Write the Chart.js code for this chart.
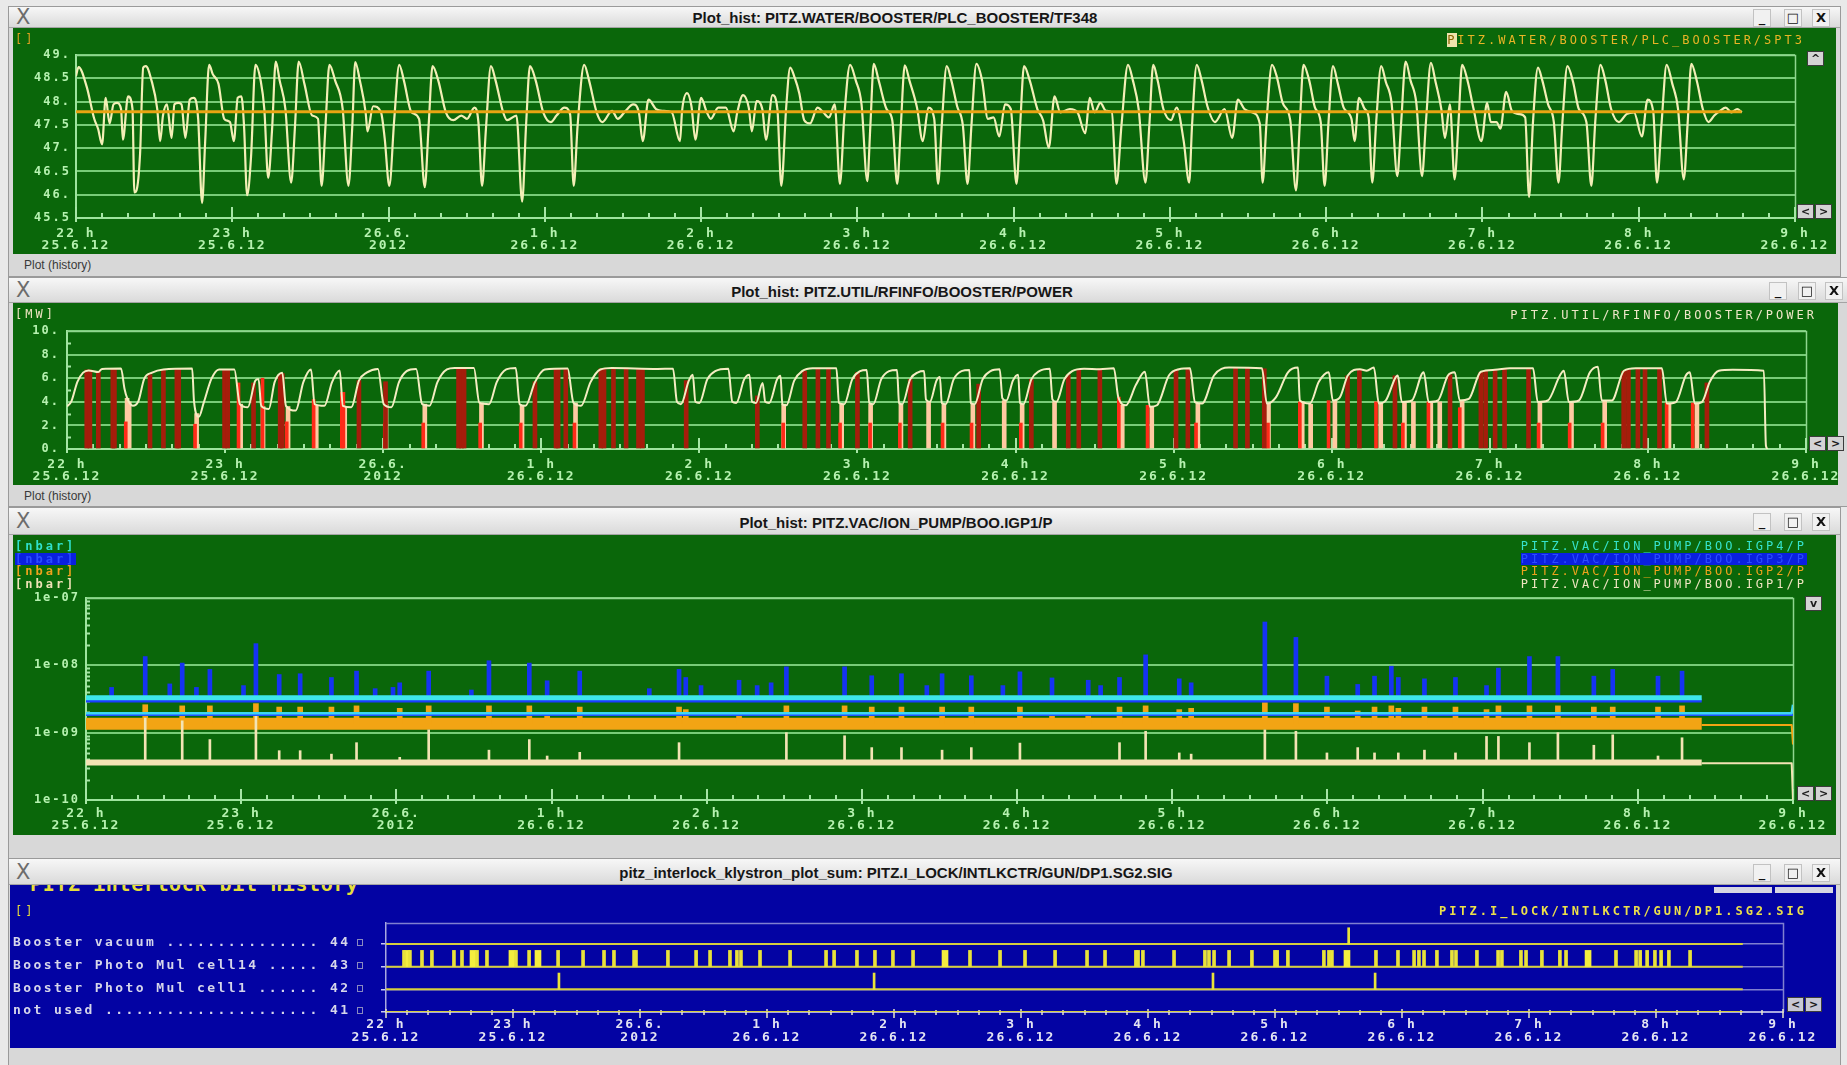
<!DOCTYPE html>
<html>
<head>
<meta charset="utf-8">
<title>PITZ booster history</title>
<script src="https://cdn.jsdelivr.net/npm/chart.js@4.4.1/dist/chart.umd.min.js"></script>
<style>
html,body{margin:0;padding:0}
body{width:1847px;height:1065px;position:relative;overflow:hidden;background:#e9e9e9;font-family:"Liberation Sans",Arial,sans-serif}
.frame{position:absolute;border:1px solid #9a9a9a;background:#d8d8d8;box-sizing:border-box}
.tbar{position:absolute;background:linear-gradient(#f7f7f7,#dadada);border-bottom:1px solid #a4a4a4;box-sizing:border-box}
.ttl{position:absolute;white-space:nowrap;font-weight:bold;font-size:15px;color:#161616;transform:translate(-50%,-50%)}
.cls{position:absolute;font:21px "DejaVu Sans",sans-serif;color:#6c6c6c;line-height:1}
.wb{position:absolute;width:18px;height:18px;box-sizing:border-box;border:1px solid #c2c2c2;background:#f1f1f1;color:#111;font:bold 13px "DejaVu Sans",sans-serif;text-align:center;line-height:16px}
.status{position:absolute;font-size:12px;color:#3a3a3a;white-space:nowrap}
canvas{position:absolute;display:block}
.mono{position:absolute;white-space:nowrap;font-family:"DejaVu Sans Mono",monospace;font-size:12px;letter-spacing:3px;line-height:13px}
.sb{position:absolute;box-sizing:border-box;border:1px solid #3c3c3c;background:#d4d4d4;color:#1c1c1c;font:bold 11px "DejaVu Sans",sans-serif;text-align:center;line-height:13px;height:15px;width:17px}
.rowlab{position:absolute;white-space:nowrap;font:bold 13px "DejaVu Sans Mono",monospace;letter-spacing:2.4px;color:#d6d6ea;line-height:14px}
.chk{position:absolute;width:6px;height:7px;border:1px solid #8a8ac0;box-sizing:border-box}
</style>
</head>
<body>

<!-- window 1 : water temperature -->
<div class="frame" style="left:8px;top:6px;width:1833px;height:271px"></div>
<div class="tbar" style="left:9px;top:7px;width:1831px;height:21px"></div>
<div class="cls" style="left:16px;top:7px">X</div>
<div class="ttl" style="left:895px;top:17px">Plot_hist: PITZ.WATER/BOOSTER/PLC_BOOSTER/TF348</div>
<div class="wb" style="left:1753px;top:9px">_</div>
<div class="wb" style="left:1784px;top:9px">□</div>
<div class="wb" style="left:1812px;top:9px">X</div>
<canvas id="c1" width="1823" height="226" style="left:13px;top:28px;background:#0a670a"></canvas>
<div class="mono" style="left:15px;top:33px;color:#e0a020">[]</div>
<div class="mono" style="right:42px;top:34px;color:#e8b426"><span style="background:#efe3ac;color:#8a6400">P</span>ITZ.WATER/BOOSTER/PLC_BOOSTER/SPT3</div>
<div class="sb" style="left:1807px;top:51px">^</div>
<div class="sb" style="left:1797px;top:204px">&lt;</div>
<div class="sb" style="left:1815px;top:204px">&gt;</div>
<div class="status" style="left:24px;top:258px">Plot (history)</div>

<!-- window 2 : RF power -->
<div class="frame" style="left:8px;top:277px;width:1840px;height:230px"></div>
<div class="tbar" style="left:9px;top:278px;width:1838px;height:25px"></div>
<div class="cls" style="left:16px;top:280px">X</div>
<div class="ttl" style="left:902px;top:291px">Plot_hist: PITZ.UTIL/RFINFO/BOOSTER/POWER</div>
<div class="wb" style="left:1769px;top:282px">_</div>
<div class="wb" style="left:1798px;top:282px">□</div>
<div class="wb" style="left:1825px;top:282px">X</div>
<canvas id="c2" width="1825" height="182" style="left:13px;top:303px;background:#0a670a"></canvas>
<div class="mono" style="left:15px;top:308px;color:#efe4c2">[MW]</div>
<div class="mono" style="right:30px;top:309px;color:#efe7c8">PITZ.UTIL/RFINFO/BOOSTER/POWER</div>
<div class="sb" style="left:1809px;top:436px">&lt;</div>
<div class="sb" style="left:1827px;top:436px">&gt;</div>
<div class="status" style="left:24px;top:489px">Plot (history)</div>

<!-- window 3 : ion pump pressures -->
<div class="frame" style="left:8px;top:507px;width:1833px;height:352px"></div>
<div class="tbar" style="left:9px;top:508px;width:1831px;height:27px"></div>
<div class="cls" style="left:16px;top:511px">X</div>
<div class="ttl" style="left:896px;top:522px">Plot_hist: PITZ.VAC/ION_PUMP/BOO.IGP1/P</div>
<div class="wb" style="left:1753px;top:513px">_</div>
<div class="wb" style="left:1784px;top:513px">□</div>
<div class="wb" style="left:1812px;top:513px">X</div>
<canvas id="c3" width="1823" height="300" style="left:13px;top:535px;background:#0a670a"></canvas>
<div class="mono" style="left:15px;top:540px;line-height:12.7px;font-weight:bold">
<div style="color:#30e0cc">[nbar]</div>
<div style="color:#2a4cff;background:#0a20e0;display:inline-block">[nbar]</div>
<div style="color:#eea21c">[nbar]</div>
<div style="color:#efe2b6">[nbar]</div>
</div>
<div class="mono" style="right:40px;top:540px;line-height:12.7px;text-align:right">
<div style="color:#36e2cc">PITZ.VAC/ION_PUMP/BOO.IGP4/P</div>
<div style="color:#2c4cff;background:#0a20e0">PITZ.VAC/ION_PUMP/BOO.IGP3/P</div>
<div style="color:#eea21c">PITZ.VAC/ION_PUMP/BOO.IGP2/P</div>
<div style="color:#efe4c0">PITZ.VAC/ION_PUMP/BOO.IGP1/P</div>
</div>
<div class="sb" style="left:1805px;top:596px">v</div>
<div class="sb" style="left:1797px;top:786px">&lt;</div>
<div class="sb" style="left:1815px;top:786px">&gt;</div>

<!-- window 4 : interlock bits -->
<div class="frame" style="left:8px;top:858px;width:1833px;height:210px"></div>
<div id="blueArea" style="position:absolute;left:10px;top:885px;width:1826px;height:163px;background:#0303a3;overflow:hidden">
  <div style="position:absolute;left:20px;top:-11px;font:bold 20px 'DejaVu Sans Mono',monospace;letter-spacing:0.6px;color:#e6de3c;white-space:nowrap;line-height:20px">PITZ interlock bit history</div>
</div>
<canvas id="c4" width="1826" height="163" style="left:10px;top:885px"></canvas>
<div class="tbar" style="left:9px;top:859px;width:1831px;height:26px"></div>
<div class="cls" style="left:16px;top:862px">X</div>
<div class="ttl" style="left:896px;top:872px">pitz_interlock_klystron_plot_sum: PITZ.I_LOCK/INTLKCTR/GUN/DP1.SG2.SIG</div>
<div class="wb" style="left:1753px;top:864px">_</div>
<div class="wb" style="left:1784px;top:864px">□</div>
<div class="wb" style="left:1812px;top:864px">X</div>
<div style="position:absolute;left:1714px;top:887px;width:58px;height:6px;background:#d6d6e2"></div>
<div style="position:absolute;left:1775px;top:887px;width:58px;height:6px;background:#d6d6e2"></div>
<div class="mono" style="left:15px;top:905px;color:#e6de3c">[]</div>
<div class="mono" style="right:40px;top:905px;color:#ece04a;font-weight:bold">PITZ.I_LOCK/INTLKCTR/GUN/DP1.SG2.SIG</div>
<div class="rowlab" style="left:13px;top:935px">Booster vacuum ............... 44</div>
<div class="rowlab" style="left:13px;top:958px">Booster Photo Mul cell14 ..... 43</div>
<div class="rowlab" style="left:13px;top:981px">Booster Photo Mul cell1 ...... 42</div>
<div class="rowlab" style="left:13px;top:1003px">not used ..................... 41</div>
<div class="chk" style="left:357px;top:939px"></div>
<div class="chk" style="left:357px;top:962px"></div>
<div class="chk" style="left:357px;top:985px"></div>
<div class="chk" style="left:357px;top:1007px"></div>
<div class="sb" style="left:1787px;top:997px;background:#c8c8d4">&lt;</div>
<div class="sb" style="left:1805px;top:997px;background:#c8c8d4">&gt;</div>

<script>
// ---- time axis: minutes after 22:00 on 25.6.2012 ----
const hourLabels = ['22 h', '23 h', '26.6.', '1 h', '2 h', '3 h', '4 h', '5 h', '6 h', '7 h', '8 h', '9 h'];
const dateLabels = ['25.6.12', '25.6.12', '2012', '26.6.12', '26.6.12', '26.6.12', '26.6.12', '26.6.12', '26.6.12', '26.6.12', '26.6.12', '26.6.12'];

// ---- PITZ.WATER/BOOSTER/PLC_BOOSTER : [minute, value] ----
const waterTF348 = [
 [0,48.55],[1,48.74],[4.1,48.32],[7,47.63],[8.5,47.41],[10,47.08],[11.4,48.08],[12.9,47.53],[14.4,47.94],[15.8,47.97],
 [17.3,47.84],[18,47.18],[20,48.11],[21.7,47.84],[22.4,46.05],[23.2,46.09],[24.6,46.88],[25.8,48.73],[26.8,48.76],[29,48.45],
 [31.2,47.84],[32.3,47.15],[33.4,47.7],[34.9,47.94],[36.7,47.22],[37.8,47.94],[39.3,47.97],[40.5,47.94],[42,47.22],[43.7,48.04],
 [45.2,48.08],[46.9,47.63],[48.4,45.82],[49.6,47.15],[51.1,48.79],[52.5,48.59],[54.7,48.38],[56.9,47.63],[59.1,47.56],[60.6,47.15],
 [62.1,48.08],[63.5,48.11],[64.5,47.49],[65.7,45.99],[67.2,46.81],[68.9,48.79],[70.9,48.45],[72.3,47.84],[73.8,46.36],[75.3,47.42],
 [76.7,48.86],[78.2,48.45],[80.4,47.84],[82.6,46.26],[84.1,47.49],[85.5,48.86],[87.7,48.38],[90.7,47.7],[92.9,47.63],[94.3,46.19],
 [95.8,47.49],[97.3,48.79],[99.5,48.45],[102.4,47.84],[104.6,46.19],[106.1,47.49],[107.2,48.85],[109,48.45],[111.2,47.77],[111.9,47.36],
 [114.1,47.9],[117.1,47.77],[118.5,47.22],[120.3,46.19],[122.2,47.63],[124.1,48.79],[125.9,48.45],[128.8,47.77],[131.7,47.63],[133.9,46.16],
 [135.4,47.49],[136.9,48.76],[139.1,48.45],[142,47.77],[144.9,47.6],[147.9,47.7],[150.1,47.63],[153,47.87],[154.5,47.56],[155.9,46.19],
 [157.4,47.42],[159.3,48.76],[161.1,48.45],[164,47.77],[165.5,47.6],[169.1,47.7],[171.3,45.85],[172.8,47.49],[174.3,48.76],[176.5,48.45],
 [179.4,47.77],[182.3,47.56],[184.5,47.7],[187.5,47.87],[189.7,47.73],[191.1,46.19],[192.6,47.49],[195.1,48.79],[197,48.45],[199.9,47.77],
 [202.1,47.56],[205.8,47.8],[208,47.63],[211,47.8],[213.9,47.94],[216.1,47.77],[217.6,47.15],[219.8,48.04],[222.7,47.84],[225.1,47.8],
 [228.7,47.77],[231.9,47.15],[232.7,47.8],[234.6,48.18],[236.3,47.9],[237.8,47.18],[240,48.08],[242.2,47.77],[243.7,47.63],[246.6,47.87],
 [249.5,47.87],[252.5,47.36],[253.9,47.77],[256.1,48.14],[258.3,47.87],[259.5,47.36],[261.3,48.01],[263.5,47.84],[264.9,47.18],[267.4,48.14],
 [269.3,47.84],[270.8,46.19],[272.7,47.9],[274.2,48.73],[275.9,48.52],[277.7,48.18],[279.6,47.6],[281.8,47.53],[284.7,47.87],[286.9,47.77],
 [289.1,47.66],[291.3,47.94],[293.3,46.23],[295,47.7],[297.2,48.79],[299.4,48.45],[301.6,47.94],[303.8,46.29],[305,47.49],[306.3,48.81],
 [308.2,48.45],[311.2,47.84],[313.4,47.6],[315.3,46.23],[316.7,47.49],[318.2,48.78],[320,48.45],[322.9,47.87],[325.1,47.15],[327.3,47.87],
 [329.5,47.63],[331,46.23],[332.4,47.49],[334.3,48.76],[336.1,48.45],[338.3,47.9],[340.5,47.49],[342.3,46.23],[343.8,47.49],[345.7,48.81],
 [347.9,48.45],[350.1,47.63],[352.3,47.66],[354.5,47.25],[356.7,47.94],[358.9,47.84],[361.1,46.23],[362.5,47.49],[364,48.76],[366.2,48.45],
 [369.1,47.84],[371.3,47.6],[373.5,47.01],[375.7,48.11],[377.9,47.77],[381.6,47.84],[384.5,47.77],[387.5,47.32],[389.2,48.08],[391.1,47.77],
 [393.3,47.97],[395.5,47.8],[397.7,47.77],[399.5,46.23],[401.4,47.49],[403.9,48.79],[405.8,48.45],[408,47.84],[410.6,46.26],[412.1,47.49],
 [413.6,48.79],[415.3,48.45],[417.5,47.84],[420.4,47.6],[422.6,47.87],[425.3,47.15],[427.4,46.26],[428.5,47.49],[430.3,48.79],[432.2,48.45],
 [434.4,47.9],[437.3,47.56],[441,47.84],[443.9,47.22],[446.1,48.04],[448.6,47.84],[451.5,47.77],[454.5,47.53],[455.6,46.26],[457.1,47.56],
 [459.2,48.79],[461.1,48.52],[463.3,47.97],[466.2,47.6],[468.4,46.09],[469.9,47.56],[471.3,48.79],[473.5,48.45],[475.7,47.87],[477.9,47.56],
 [479.4,46.19],[480.9,47.56],[482.6,48.76],[484.5,48.38],[486.7,47.87],[489.7,47.63],[490.9,47.15],[492.6,48.08],[494.8,47.84],[496.3,47.66],
 [497.7,46.26],[499.2,47.56],[501.1,48.76],[502.9,48.42],[505.1,47.97],[507.3,46.4],[508.8,47.56],[510.5,48.86],[512.4,48.45],[514.6,47.97],
 [516.8,46.4],[518.3,47.56],[520.2,48.83],[522,48.42],[524.2,47.84],[525.6,47.22],[527.5,47.94],[529.3,46.33],[530.8,47.56],[532.2,48.79],
 [534.4,48.42],[536.6,47.84],[539.6,47.15],[541.8,47.97],[543.2,47.56],[545.4,47.56],[546.9,47.42],[549.1,48.21],[551.3,47.8],[554.2,47.73],
 [556.4,47.66],[557.9,45.95],[559.4,47.56],[561.3,48.73],[563,48.45],[565.2,47.94],[567.4,47.56],[569.2,46.26],[570.7,47.56],[572.6,48.76],
 [574.8,48.42],[577,47.84],[579.9,47.56],[581.8,46.19],[583.3,47.56],[585.3,48.79],[587.2,48.45],[589.4,47.84],[592.4,47.56],[595.3,47.73],
 [598.2,47.77],[601.2,47.25],[603.4,48.04],[605.6,47.77],[607,46.26],[608.8,47.56],[610.7,48.79],[612.9,48.38],[615.1,47.84],[617.3,46.33],
 [618.8,47.56],[620.2,48.81],[622.4,48.42],[624.6,47.84],[626.8,47.56],[629,47.7],[631.2,47.8],[633.4,47.87],[635.6,47.77],[637.8,47.84],
 [639.6,47.77]
];
const waterSPT3 = [[0,47.78],[639.5,47.78]];

// ---- PITZ.UTIL/RFINFO/BOOSTER/POWER [MW] ----
const boosterPower = [
 [0,3.6],[1.7,4.06],[3.9,5.67],[6.1,6.47],[8.2,6.66],[11.9,6.52],[13.3,6.79],[20.5,6.82],[21.8,5.13],[22.8,4.33],
 [25,3.66],[27.1,4.06],[29.3,5.94],[32.3,6.47],[36.6,6.74],[47.5,6.82],[48.2,4.06],[50,2.73],[51.9,3.93],[54.8,5.94],
 [57.7,6.74],[63.5,6.74],[65.6,3.8],[68.6,3.53],[71.5,5.8],[72.7,5.94],[73.7,3.66],[76.6,3.4],[78.8,5.67],[81.7,6.47],
 [83.1,3.66],[86.8,3.26],[89.7,5.67],[92.6,6.74],[94,3.8],[97.7,3.66],[100.6,5.67],[103.5,6.66],[104.7,3.66],[107.9,3.53],
 [110.8,5.8],[113.7,6.47],[118,6.79],[120.2,3.8],[123.1,3.53],[126,5.67],[128.9,6.6],[132.5,6.79],[134.8,3.8],[137.6,3.66],
 [140.6,5.67],[144.2,6.74],[147.1,6.87],[154.4,6.87],[156.5,3.93],[160.2,3.8],[163.1,5.67],[166.7,6.74],[170.3,6.87],[171.8,3.8],
 [174,3.66],[177.6,5.67],[181.3,6.74],[190,6.82],[192.2,3.93],[195.1,3.66],[198.7,5.67],[202.4,6.74],[206.7,6.87],[224.1,6.79],
 [230,6.8],[231.5,4],[233,3.8],[236,5.8],[237.5,6.3],[238.5,4],[240,3.9],[243,5.9],[246,6.6],[251,6.8],
 [252.5,4],[254,3.9],[257,5.9],[259,6.3],[260,4],[261.5,3.9],[264,5.6],[265,4],[266.5,3.9],[269.5,5.9],
 [270.8,6.2],[271.5,3.8],[273,3.7],[276,5.8],[279,6.6],[283,6.85],[292,6.85],[293,3.9],[295,3.8],[298,5.9],
 [301,6.6],[303.5,6.7],[304.5,3.9],[306,3.8],[309,5.9],[312,6.6],[315,6.7],[315.8,3.9],[317,3.8],[320,5.9],
 [323,6.5],[325.3,6.6],[326,4.2],[327.5,4],[330,5.8],[331.3,6.1],[332,3.9],[333.5,3.8],[336.5,5.9],[339.5,6.6],
 [342.5,6.7],[343,3.9],[344.5,3.8],[347.5,5.9],[350.5,6.6],[354,6.75],[355,4.3],[356.5,4.1],[359,5.8],[361,6.3],
 [361.7,3.9],[363,3.8],[366,5.9],[369,6.6],[373,6.8],[374,4.2],[375.5,4],[378.5,5.9],[381.5,6.6],[386,6.8],
 [392,6.76],[397.3,6.84],[399,4.38],[401.9,3.71],[405.7,5.44],[409.1,6.55],[411,3.58],[413.7,3.71],[418.2,6.23],[422,6.76],
 [426.2,6.84],[428.1,3.98],[430.8,3.85],[435.3,6.23],[441,6.9],[453.5,6.84],[455.4,3.85],[458.8,4.38],[463.4,6.5],[467.2,6.9],
 [467.9,4.11],[471.7,3.85],[475.1,5.7],[478.9,6.5],[480.4,4.11],[483.1,4.38],[486.1,6.23],[490.7,6.76],[493.3,6.63],[496,6.9],
 [497.9,3.85],[500.5,4.11],[505.1,6.23],[506.6,3.98],[510.4,4.11],[514.9,6.5],[516.8,3.98],[520.3,4.11],[524.1,6.23],[526.7,6.5],
 [528.6,4.11],[532,4.24],[536.6,6.55],[541.9,6.71],[547.6,6.84],[556.4,6.84],[558.2,3.98],[562,4.11],[566.6,6.23],[568.1,6.63],
 [570,3.98],[573.8,4.11],[578,6.5],[581,6.97],[582.5,4.11],[586.3,4.11],[590.9,6.63],[595.4,6.84],[605.3,6.84],[607.2,3.85],
 [610.6,3.98],[614.4,6.23],[615.9,6.5],[617.8,3.85],[620.5,3.98],[623.5,5.7],[626.9,6.63],[632.2,6.71],[644,6.63],[644.8,0.27],
 [645.5,0]
];
// RF trips: [minute, height reached in MW]
const powerTripsDark = [
 [7.5,6.7],[8.7,6.7],[11.9,6.5],[17.4,6.8],[18,6.8],[31.5,6.3],[36.6,6.7],[41.7,6.8],[42.4,6.8],[59.8,6.7],
 [61,6.7],[70.8,5.6],[80.9,6.3],[81.7,6.4],[110.8,5.8],[120.9,5.7],[148.6,6.8],[149.7,6.8],[150.7,6.8],[177.6,5.7],
 [185.6,6.8],[186.4,6.8],[189.3,6.8],[202.6,6.8],[203.8,6.8],[207.4,6.8],[212.2,6.8],[216.9,6.8],[218.4,6.8],[235,5.8],
 [262,4.5],[280,6.6],[285,6.85],[289,6.85],[300,6.5],[320,5.9],[346,5.5],[366,5.9],[380,6.3],[384,6.7],
 [392,6.8],[420.9,6.7],[425.4,6.8],[443.5,6.9],[448,6.9],[454.4,6.8],[486,6.2],[490.5,6.7],[504,6.2],[524.9,6.3],
 [536.6,6.5],[538.4,6.6],[542,6.7],[545.6,6.8],[554.7,6.8],[590.8,6.6],[592.6,6.7],[596.2,6.8],[598.9,6.8],[604.4,6.8],
 [622.4,5.6]
];
const powerTripsBright = [
 [22.3,2.3],[48.6,2.1],[65.1,5.6],[74.2,6],[83.4,2.3],[93.6,4.2],[104.3,4.8],[104.9,4.8],[120.6,2.2],[135.2,2.2],
 [156.8,2.2],[172.2,2.2],[192.6,2.2],[271.8,2.2],[293.4,2.2],[304.8,2.2],[316.1,2.2],[332.3,2.2],[343.3,2.2],[362,2.2],
 [399.2,4.4],[410.1,3.7],[428.5,2.2],[455.8,2.2],[467.9,4],[478.8,4.1],[496.8,4],[507,2.2],[516.7,4],[528.6,3.5],
 [558.5,2.2],[570.3,2.2],[582.8,2.2],[607.1,3.9],[617,3.9]
];
const powerDropouts = [
 [22.8,4.3],[23.6,4],[49.2,3],[65.9,3.8],[74.4,3.6],[83.9,3.6],[94.6,3.7],[105.4,3.6],[121.1,3.8],[135.8,3.8],
 [157.3,3.9],[172.7,3.7],[193,3.9],[272,3.8],[294,3.8],[305,3.8],[316.5,3.8],[327,4],[332.8,3.8],[343.8,3.8],
 [355.7,4.1],[362.5,3.8],[374.8,4],[400.5,3.7],[411.7,3.6],[429.2,3.9],[456,3.9],[468.8,4],[472,3.8],[481.2,4.1],
 [498.6,3.9],[507.6,3.9],[511,4],[517.6,3.9],[521,4],[529.5,4.1],[559,3.9],[571,3.9],[583.6,4.1],[608,3.8],
 [618.6,3.9]
];

// ---- PITZ.VAC/ION_PUMP/BOO.IGPn/P ----
const igp4Trace = [[0,3.3e-9],[624.7,3.3e-9]];
const igp3Trace = [[0,3.0e-9],[624.7,3.0e-9]];
const igp2Trace = [[0,1.36e-9],[624.7,1.36e-9]];
const igp2Hold  = [[624.7,1.3e-9],[659.5,1.3e-9],[660,6.7e-10]];
const igp1Trace = [[0,3.6e-10],[624.7,3.6e-10]];
const igp1Hold  = [[624.7,3.5e-10],[659.5,3.5e-10],[660,1e-10]];
const igp4Limit = [[0,1.95e-9],[659.5,1.95e-9],[660,2.6e-9]];
const igp3Limit = [[0,1.85e-9],[660,1.85e-9]];
const igp3Spikes = [
 [9.9,4.7e-9],[22.9,1.35e-8],[32.4,5.3e-9],[37.2,1.08e-8],[42.7,4.7e-9],[47.9,8.7e-9],[60.9,5.0e-9],[65.7,2.1e-8],[74.7,7.3e-9],[82.8,7.5e-9],
 [94.9,6.6e-9],[104.6,8.2e-9],[111.8,4.5e-9],[118.7,4.7e-9],[121.3,5.5e-9],[132.5,8.2e-9],[149,4.3e-9],[155.8,1.17e-8],[171.4,1.08e-8],[178.3,5.9e-9],
 [190.9,8.2e-9],[217.8,4.5e-9],[229.3,8.7e-9],[231.9,6.6e-9],[237.8,5.0e-9],[252.5,6.0e-9],[259.5,5.0e-9],[264.9,5.5e-9],[270.8,9.5e-9],[293.3,9.5e-9],
 [303.8,7.0e-9],[315.3,7.5e-9],[325.1,5.0e-9],[331,7.5e-9],[342.3,7.0e-9],[354.5,5.0e-9],[361.1,8.0e-9],[373.5,6.5e-9],[387.5,6.0e-9],[392.3,5.0e-9],
 [399.6,6.6e-9],[409.7,1.43e-8],[422.7,6.3e-9],[427.3,5.5e-9],[455.8,4.4e-8],[467.8,2.6e-8],[479.8,6.9e-9],[491.7,5.2e-9],[498.2,6.9e-9],[504.7,9.7e-9],
 [507.4,6.6e-9],[517.5,6.3e-9],[529.5,6.6e-9],[541.5,5.0e-9],[546.1,9.1e-9],[558.1,1.35e-8],[569.1,1.35e-8],[583,6.9e-9],[590.3,8.7e-9],[607.8,6.9e-9],
 [617.1,8.2e-9]
];
const igp2Spikes = [
 [22.9,2.6e-9],[37.2,2.5e-9],[47.9,2.5e-9],[65.7,2.7e-9],[74.7,2.4e-9],[82.8,2.4e-9],[94.9,2.4e-9],[104.6,2.5e-9],[121.3,2.3e-9],[132.5,2.5e-9],
 [155.8,2.5e-9],[171.4,2.5e-9],[178.3,1.9e-9],[190.9,2.4e-9],[229.3,2.4e-9],[231.9,2.2e-9],[252.5,1.9e-9],[270.8,2.5e-9],[293.3,2.5e-9],[303.8,2.4e-9],
 [315.3,2.4e-9],[331,2.4e-9],[342.3,2.4e-9],[361.1,2.4e-9],[373.5,2.0e-9],[387.5,2.0e-9],[399.6,2.4e-9],[409.7,2.5e-9],[422.7,2.2e-9],[427.3,2.3e-9],
 [455.8,2.8e-9],[467.8,2.7e-9],[479.8,2.4e-9],[491.7,2.1e-9],[498.2,2.4e-9],[504.7,2.5e-9],[507.4,2.3e-9],[517.5,2.4e-9],[529.5,2.4e-9],[541.5,2.2e-9],
 [546.1,2.5e-9],[558.1,2.5e-9],[569.1,2.5e-9],[583,2.4e-9],[590.3,2.4e-9],[607.8,2.4e-9],[617.1,2.5e-9]
];
const igp1Spikes = [
 [22.9,1.65e-9],[37.2,1.5e-9],[47.9,7.9e-10],[65.7,1.8e-9],[74.7,5.4e-10],[82.8,5.4e-10],[94.9,4.8e-10],[104.6,7.1e-10],[121.3,4.3e-10],[132.5,1.1e-9],
 [155.8,5.5e-10],[171.4,7.9e-10],[178.3,4.5e-10],[190.9,5.1e-10],[229.3,7.1e-10],[270.8,1.0e-9],[293.3,9.0e-10],[303.8,6.0e-10],[315.3,6.0e-10],[331,5.5e-10],
 [342.3,6.0e-10],[361.1,7.0e-10],[399.6,7.1e-10],[409.7,1.05e-9],[422.7,5.0e-10],[427.3,4.8e-10],[455.8,1.1e-9],[467.8,1.05e-9],[479.8,5.0e-10],[491.7,6.0e-10],
 [498.2,5.0e-10],[507.4,5.0e-10],[517.5,5.5e-10],[529.5,5.0e-10],[541.5,8.8e-10],[546.1,8.8e-10],[558.1,7.1e-10],[569.1,1.0e-9],[583,6.5e-10],[590.3,9.3e-10],
 [607.8,4.5e-10],[617.1,8.4e-10]
];

// ---- PITZ.I_LOCK/INTLKCTR/GUN/DP1.SG2.SIG : bit number and set times ----
const bitRows = [44, 43, 42, 41];
const bitTraceEnd = 641;
const vacuumBit44 = [454.8];
const cell14Bit43 = [
 8.5, 11.3, 17.0, 21.7, 32.1, 35.9, 43.0, 47.7, 61.4, 67.6, 81.3, 93.1, 103.0, 107.7, 117.2, 118.1, 133.2, 146.5,
 153.1, 162.5, 165.8, 167.7, 176.7, 190.9, 207.9, 211.7, 222.5, 231.0, 239.5, 249.0, 275.9, 290.1, 301.9, 316.1, 331.2,
 339.7, 354.3, 355.3, 357.6, 372.3, 386.9, 388.8, 391.2, 398.3, 409.1, 420.0, 421.0, 426.1, 443.1, 445.5, 446.9,
 467.7, 478.1, 485.7, 488.0, 490.4, 496.5, 503.6, 505.5, 515.4, 525.4, 527.2, 536.2, 538.6, 546.1, 554.6, 557.5,
 581.1, 590.6, 592.5, 595.8, 599.5, 602.4, 606.1, 616.1
];
const cell14Bit43Long = [9.9, 41.1, 59.5, 71.8, 264.1, 454.0, 567.9];
const cell1Bit42 = [81.7, 230.6, 390.7, 467.3];

// ---------------------------------------------------------------
const SPAN = 660;            // 22:00 .. 09:00
const BIT_PULSE = 0.72;      // drawn height of a set bit
const pts = a => a.map(([x, y]) => ({x, y}));
const floatBars = (a, base) => a.map(([x, top]) => ({x, y: [base, top]}));
const bitBars = (times, row) => times.map(t => ({x: t, y: [row, row + BIT_PULSE]}));

function line(data, color, width, order, smooth) {
  const d = {type: 'line', data, borderColor: color, borderWidth: width, pointRadius: 0,
             fill: false, tension: 0, order, borderJoinStyle: 'round'};
  if (smooth) d.cubicInterpolationMode = 'monotone';
  return d;
}
function bars(data, color, thickness, order) {
  return {type: 'bar', data, backgroundColor: color, barThickness: thickness,
          grouped: false, borderWidth: 0, order};
}

// letter spacing for the axis labels
const spacingPlugin = {
  id: 'labelSpacing',
  beforeDraw(chart, args, o) { chart.ctx.letterSpacing = (o.px || 0) + 'px'; },
  afterDraw(chart) { chart.ctx.letterSpacing = '0px'; }
};
// frame, ten-minute tick marks and minor y ticks
const decorPlugin = {
  id: 'decor',
  beforeDatasetsDraw(chart, args, o) {
    const {ctx, chartArea: a} = chart;
    const x = chart.scales.x, y = chart.scales.y;
    ctx.save();
    if (o.frame) {
      ctx.strokeStyle = o.frame; ctx.lineWidth = 1.5;
      ctx.beginPath();
      ctx.moveTo(a.left, a.top + 0.5); ctx.lineTo(a.right + 0.5, a.top + 0.5); ctx.lineTo(a.right + 0.5, a.bottom);
      ctx.stroke();
    }
    ctx.strokeStyle = o.tick; ctx.lineWidth = o.tickWidth || 2;
    ctx.beginPath();
    for (let m = 0; m <= SPAN; m += 10) {
      const px = Math.round(x.getPixelForValue(m));
      const major = m % 60 === 0;
      ctx.moveTo(px, a.bottom + (major ? o.majorDown : o.minorDown));
      ctx.lineTo(px, a.bottom - (major ? o.majorUp : o.minorUp));
    }
    (o.yMinor || []).forEach(v => {
      const py = Math.round(y.getPixelForValue(v)) + 0.5;
      ctx.moveTo(a.left, py); ctx.lineTo(a.left + 4, py);
    });
    ctx.stroke();
    ctx.restore();
  }
};

function makeChart(id, p) {
  const cv = document.getElementById(id);
  const W = cv.width, H = cv.height, A = p.area;
  const y = Object.assign({
    position: 'left',
    afterFit(s) { s.width = A.left; s.paddingTop = 0; s.paddingBottom = 0; },
    grid: {color: p.gridColor, lineWidth: p.gridWidth || 2, drawTicks: false},
    border: {display: true, color: p.axisColor, width: 2},
    ticks: {color: p.yLabelColor, padding: p.yPad, font: {family: '"DejaVu Sans Mono", monospace', size: 12, weight: 'bold'}}
  }, p.y);
  return new Chart(cv, {
    type: 'line',
    data: {datasets: p.datasets},
    options: {
      responsive: false, animation: false, events: [], devicePixelRatio: 1,
      layout: {padding: {left: 0, top: A.top, right: W - A.right, bottom: 0}},
      plugins: {legend: {display: false}, tooltip: {enabled: false}, labelSpacing: {px: 2}, decor: p.decor},
      scales: {
        x: {
          type: 'linear', min: 0, max: SPAN, offset: false,
          afterFit(s) { s.height = H - A.bottom; s.paddingLeft = 0; s.paddingRight = 0; },
          afterBuildTicks(s) { s.ticks = hourLabels.map((_, i) => ({value: i * 60})); },
          grid: {display: false, drawTicks: false},
          border: {display: true, color: p.axisColor, width: 2},
          ticks: {
            autoSkip: false, maxRotation: 0, minRotation: 0, padding: p.xPad, color: p.xLabelColor,
            font: {family: '"DejaVu Sans Mono", monospace', size: 13, weight: 'bold', lineHeight: p.xLine || '12px'},
            callback: (v, i) => [hourLabels[i], dateLabels[i]]
          }
        },
        y
      }
    },
    plugins: [spacingPlugin, decorPlugin]
  });
}

const GREEN_GRID = 'rgba(140,222,140,0.85)';
const GREEN_AXIS = '#9ee49e';
const GREEN_TEXT = '#b6f2b0';
const greenDecor = {tick: '#a6e6a6', frame: '#8fd68f', majorUp: 11, majorDown: 4, minorUp: 5, minorDown: 0};
const monoBold = {family: '"DejaVu Sans Mono", monospace', size: 12, weight: 'bold'};

// window 1: water temperature and set point
makeChart('c1', {
  area: {left: 63, right: 1782, top: 27, bottom: 190},
  gridColor: GREEN_GRID, axisColor: GREEN_AXIS, yLabelColor: GREEN_TEXT, xLabelColor: GREEN_TEXT,
  yPad: 5, xPad: 10,
  decor: greenDecor,
  y: {type: 'linear', min: 45.5, max: 49,
      ticks: {stepSize: 0.5, color: GREEN_TEXT, padding: 5, font: monoBold,
              callback: v => Number.isInteger(v) ? v + '.' : String(v)}},
  datasets: [
    line(pts(waterSPT3), '#e9a512', 3, 0),
    line(pts(waterTF348), '#f3efb6', 2.2, 1, true)
  ]
});

// window 2: klystron power with trips
makeChart('c2', {
  area: {left: 54, right: 1793, top: 28, bottom: 146},
  gridColor: GREEN_GRID, axisColor: GREEN_AXIS, yLabelColor: GREEN_TEXT, xLabelColor: GREEN_TEXT,
  yPad: 7, xPad: 10,
  decor: Object.assign({}, greenDecor, {yMinor: [1, 3, 5, 7, 9]}),
  y: {type: 'linear', min: 0, max: 10,
      ticks: {stepSize: 2, color: GREEN_TEXT, padding: 7, font: monoBold, callback: v => v + '.'}},
  datasets: [
    line(pts(boosterPower), '#f4edc2', 2, 0, true),
    bars(floatBars(powerTripsDark, 0), '#a51d0b', 4, 1),
    bars(floatBars(powerTripsBright, 0), '#ff2b18', 3, 2),
    bars(floatBars(powerDropouts, 0), '#ffcaa2', 4, 3)
  ]
});

// window 3: ion pump pressures (log scale)
const decades = [1e-10, 1e-9, 1e-8, 1e-7];
const logMinor = [];
decades.slice(0, 3).forEach(d => { for (let k = 2; k <= 9; k++) logMinor.push(k * d); });
makeChart('c3', {
  area: {left: 73, right: 1780, top: 63, bottom: 265},
  gridColor: GREEN_GRID, axisColor: GREEN_AXIS, yLabelColor: GREEN_TEXT, xLabelColor: GREEN_TEXT,
  yPad: 6, xPad: 8,
  decor: Object.assign({}, greenDecor, {yMinor: logMinor}),
  y: {type: 'logarithmic', min: 1e-10, max: 1e-7,
      afterBuildTicks(s) { s.ticks = decades.map(v => ({value: v})); },
      ticks: {color: GREEN_TEXT, padding: 6, font: monoBold,
              callback: v => '1e-' + String(-Math.round(Math.log10(v))).padStart(2, '0')}},
  datasets: [
    line(pts(igp4Limit), '#3fd6f2', 2.5, 0),
    line(pts(igp3Limit), '#1f52ff', 2.5, 0.5),
    line(pts(igp4Trace), '#3ee6ea', 5, 1),
    line(pts(igp3Trace), '#1b3dff', 4, 2),
    bars(floatBars(igp3Spikes, 3.0e-9), '#1533f2', 4, 3),
    bars(floatBars(igp1Spikes, 3.6e-10), '#f3e4b4', 2, 4),
    bars(floatBars(igp2Spikes, 1.36e-9), '#f2a414', 5, 5),
    line(pts(igp2Trace), '#f2a414', 12, 6),
    line(pts(igp2Hold), '#f2a414', 2, 6),
    line(pts(igp1Trace), '#f3e4b4', 6, 7),
    line(pts(igp1Hold), '#f3e4b4', 2, 7)
  ]
});

// window 4: interlock bit history
const rowTraces = bitRows.map(r => line([{x: 0, y: r}, {x: bitTraceEnd, y: r}], '#d6cf3e', 2, 5));
makeChart('c4', {
  area: {left: 376, right: 1773, top: 38, bottom: 127},
  gridColor: '#8080d0', gridWidth: 1.5, axisColor: '#a8a8e0', yLabelColor: '#e4e4f2', xLabelColor: '#e4e4f2',
  yPad: 4, xPad: 6, xLine: '13px',
  decor: {tick: '#e6e6c8', frame: '#8080d0', majorUp: 3, majorDown: 6, minorUp: 2, minorDown: 3, tickWidth: 1.5},
  y: {type: 'linear', min: 41, max: 44.93,
      afterBuildTicks(s) { s.ticks = bitRows.map(v => ({value: v})); },
      grid: {color: '#8080d0', lineWidth: 1.5, drawTicks: true, tickLength: 5, tickColor: '#c8c8ee'},
      border: {display: true, color: '#a8a8e0', width: 1.5},
      ticks: {callback: () => '', padding: 0}},
  datasets: [
    bars(bitBars(vacuumBit44, 44), '#e8e23a', 2, 0),
    bars(bitBars(cell14Bit43, 43), '#e8e23a', 3, 0),
    bars(bitBars(cell14Bit43Long, 43), '#f4ee3e', 6, 0),
    bars(bitBars(cell1Bit42, 42), '#e8e23a', 2, 0)
  ].concat(rowTraces)
});
</script>
</body>
</html>
